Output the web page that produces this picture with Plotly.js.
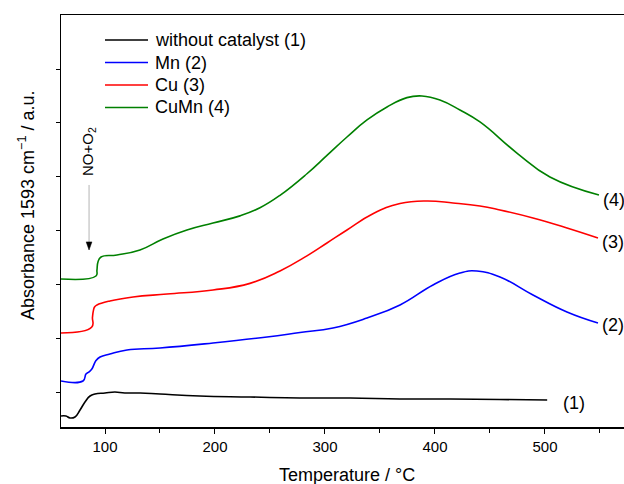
<!DOCTYPE html>
<html>
<head>
<meta charset="utf-8">
<script src="https://cdn.plot.ly/plotly-3.0.1.min.js"></script>
<style>
html, body { margin: 0; padding: 0; overflow: hidden; background: #fff; }
#chart { width: 680px; height: 484px; }
</style>
</head>
<body>
<div id="chart"></div>
<script>
// Series names
const seriesNames = ["without catalyst (1)", "Mn (2)", "Cu (3)", "CuMn (4)"];
const endLabels = ["(1)", "(2)", "(3)", "(4)"];

// Temperature (°C) and absorbance (a.u., offset traces)
const tempBlack = [60, 64.5, 68.2, 72.7, 77.3, 81.8, 86.4, 90.9, 100, 109, 118, 132, 150, 186, 232, 277, 323, 368, 414, 459, 502];
const absBlack  = [0.574, 0.574, 0.537, 0.555, 0.685, 0.833, 0.944, 0.981, 1.0, 1.019, 1.0, 1.0, 0.981, 0.944, 0.926, 0.907, 0.907, 0.889, 0.889, 0.880, 0.870];

const tempMn = [60, 80, 82.7, 85.5, 88.2, 91.8, 95.5, 104.5, 120, 150, 198.2, 247.3, 277.3, 307.3, 338.2, 368.2, 398.2, 422.7, 438.2, 459.1, 489.1, 520, 548.2];
const absMn  = [1.222, 1.222, 1.35, 1.39, 1.45, 1.6, 1.667, 1.722, 1.796, 1.833, 1.926, 2.037, 2.120, 2.204, 2.389, 2.630, 3.0, 3.222, 3.259, 3.148, 2.815, 2.5, 2.296];

const tempCu = [60, 88.0, 88.6, 89.4, 90.5, 92.7, 104.5, 125.5, 156.4, 198.2, 231.8, 259.1, 283.6, 301.8, 320, 343.6, 368.2, 392.7, 416.4, 440.9, 459.1, 489.1, 520, 548.2];
const absCu  = [2.111, 2.222, 2.40, 2.52, 2.593, 2.630, 2.704, 2.778, 2.833, 2.907, 3.030, 3.260, 3.540, 3.778, 4.019, 4.320, 4.510, 4.556, 4.519, 4.463, 4.389, 4.241, 4.056, 3.870];

const tempCuMn = [60, 91.8, 92.7, 93.6, 96.4, 110.9, 131.8, 152.7, 174.5, 198.2, 222.7, 240.9, 259.1, 283.6, 301.8, 320, 338.2, 356.4, 374.5, 388.2, 404.5, 422.7, 440.9, 474.5, 504.5, 549.1];
const absCuMn  = [3.111, 3.167, 3.278, 3.426, 3.519, 3.556, 3.648, 3.852, 4.019, 4.148, 4.280, 4.430, 4.660, 5.060, 5.400, 5.741, 6.056, 6.296, 6.470, 6.5, 6.426, 6.241, 6.019, 5.444, 5.0, 4.667];

const xTickVals = [100, 200, 300, 400, 500];
const xTickText = ["100", "200", "300", "400", "500"];
const yTickVals = [1, 2, 3, 4, 5, 6, 7];

const colors = ["#000000", "#0000ff", "#ff0000", "#008000"];
const FONT = "Liberation Sans, Arial, sans-serif";

const traces = [
  {x: tempBlack, y: absBlack, name: seriesNames[0], line: {color: colors[0]}},
  {x: tempMn, y: absMn, name: seriesNames[1], line: {color: colors[1]}},
  {x: tempCu, y: absCu, name: seriesNames[2], line: {color: colors[2]}},
  {x: tempCuMn, y: absCuMn, name: seriesNames[3], line: {color: colors[3]}}
].map(t => Object.assign(t, {type: "scatter", mode: "lines", showlegend: false,
  line: Object.assign(t.line, {width: 1.6, shape: "spline", smoothing: 1.3})}));

// plot area geometry helpers (pixels -> paper)
const L = 61, T = 15, W = 579, H = 412;
const px = (x) => (x - L) / W;
const py = (y) => (T + H - y) / H;

const last = (a) => a[a.length - 1];
const endAnn = [
  {x: last(tempBlack) + 13, y: last(absBlack) - 0.06, text: endLabels[0]},
  {x: last(tempMn) + 2, y: last(absMn) - 0.04, text: endLabels[1]},
  {x: last(tempCu) + 2, y: last(absCu) - 0.07, text: endLabels[2]},
  {x: last(tempCuMn) + 2, y: last(absCuMn) - 0.09, text: endLabels[3]}
].map(a => Object.assign(a, {xref: "x", yref: "y", xanchor: "left", yanchor: "middle", showarrow: false, font: {family: FONT, size: 18, color: "#000"}}));

// manual legend (long line samples like the reference)
const legendRows = [40, 62.5, 85, 107.5];
const legendShapes = legendRows.map((ry, i) => ({type: "line", xref: "paper", yref: "paper",
  x0: px(105), x1: px(148), y0: py(ry), y1: py(ry), line: {color: colors[i], width: 1.6}}));
const legendAnn = legendRows.map((ry, i) => ({xref: "paper", yref: "paper", x: px(153), y: py(ry),
  xanchor: "left", yanchor: "middle", text: seriesNames[i], showarrow: false,
  font: {family: FONT, size: 18, color: "#000"}}));

// NO+O2 arrow (gray shaft, black head)
const arrowX = 85.5, arrowTip = 3.648, arrowTail = 4.852;
const arrowShapes = [
  {type: "line", xref: "x", yref: "y", x0: arrowX, x1: arrowX, y0: arrowTail, y1: arrowTip + 0.1,
   line: {color: "#b4b4b4", width: 1}},
  {type: "path", xref: "x", yref: "y",
   path: `M ${arrowX - 2.6} ${arrowTip + 0.15} L ${arrowX + 2.6} ${arrowTip + 0.15} L ${arrowX} ${arrowTip} Z`,
   fillcolor: "#000", line: {color: "#000", width: 0.5}}
];

const layout = {
  width: 680, height: 484,
  margin: {l: 61, r: 40, t: 15, b: 57},
  paper_bgcolor: "#fff", plot_bgcolor: "#fff",
  showlegend: false,
  xaxis: {range: [60, 586.4], showgrid: false, zeroline: false,
          showline: true, linecolor: "#000", linewidth: 1.5, mirror: true,
          ticks: "outside", ticklen: 5, tickwidth: 1, tickcolor: "#000",
          tickvals: xTickVals, ticktext: xTickText,
          minor: {dtick: 50, tick0: 0, ticks: "outside", ticklen: 4, tickwidth: 1, tickcolor: "#000", showgrid: false},
          tickfont: {family: FONT, size: 15, color: "#000"}},
  yaxis: {range: [0.37, 8.0], showgrid: false, zeroline: false,
          showline: true, linecolor: "#000", linewidth: 1.5, mirror: true,
          ticks: "outside", ticklen: 4, tickwidth: 1, tickcolor: "#000",
          tickvals: yTickVals, showticklabels: false},
  shapes: legendShapes.concat(arrowShapes),
  annotations: endAnn.concat(legendAnn, [
    {xref: "paper", yref: "paper", x: px(347), y: py(475), xanchor: "center", yanchor: "middle",
     text: "Temperature / °C", showarrow: false, font: {family: FONT, size: 18, color: "#000"}},
    {xref: "paper", yref: "paper", x: px(26), y: py(205), xanchor: "center", yanchor: "middle",
     text: "Absorbance 1593 cm<sup>−1</sup> / a.u.", textangle: -90, showarrow: false, font: {family: FONT, size: 18, color: "#000"}},
    {xref: "paper", yref: "paper", x: px(89), y: py(152), xanchor: "center", yanchor: "middle",
     text: "NO+O<sub>2</sub>", textangle: -90, showarrow: false,
     font: {family: FONT, size: 15, color: "#000"}}
  ])
};

Plotly.newPlot("chart", traces, layout, {displayModeBar: false, staticPlot: true});
</script>
</body>
</html>
